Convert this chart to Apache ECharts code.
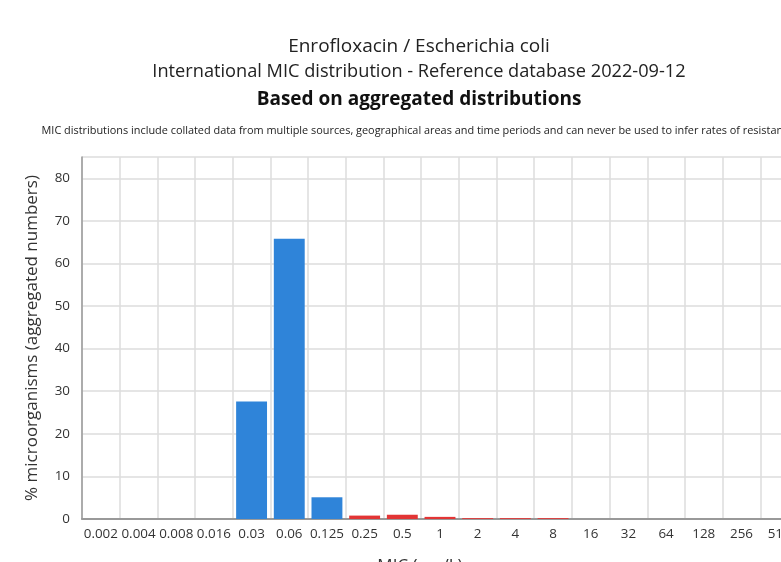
<!DOCTYPE html>
<html>
<head>
<meta charset="utf-8">
<script src="https://cdn.jsdelivr.net/npm/echarts@6/dist/echarts.min.js"></script>
<style>
  html, body { margin: 0; padding: 0; background: #fff; overflow: hidden; }
  #chart { width: 781px; height: 562px; }
</style>
</head>
<body>
<div id="chart"></div>
<script>
// MIC concentrations (mg/L) on the x axis
const micLabels = ['0.002', '0.004', '0.008', '0.016', '0.03', '0.06', '0.125', '0.25', '0.5',
  '1', '2', '4', '8', '16', '32', '64', '128', '256', '512'];
// Percentage of isolates at each MIC
const percentValues = [0, 0, 0, 0, 27.6, 65.8, 5.1, 0.8, 1.0, 0.5, 0.2, 0.2, 0.2, 0, 0, 0, 0, 0, 0];
// Last MIC counted as wild type (bars up to here are blue, above are red)
const ecoffLabel = '0.125';
const yTicks = [0, 10, 20, 30, 40, 50, 60, 70, 80];

const ecoffIndex = micLabels.indexOf(ecoffLabel);
const font = '"Open Sans", "Noto Sans", sans-serif';

const chart = echarts.init(document.getElementById('chart'), null, { renderer: 'canvas' });

chart.setOption({
  animation: false,
  backgroundColor: '#ffffff',
  textStyle: { fontFamily: font },
  title: [
    {
      text: 'Enrofloxacin / Escherichia coli',
      left: 414, top: 32, textAlign: 'center',
      textStyle: { fontFamily: font, fontSize: 19, fontWeight: 'normal', color: '#222' }
    },
    {
      text: 'International MIC distribution - Reference database 2022-09-12',
      left: 414, top: 58, textAlign: 'center',
      textStyle: { fontFamily: font, fontSize: 18.2, fontWeight: 'normal', color: '#222' }
    },
    {
      text: 'Based on aggregated distributions',
      left: 414, top: 85, textAlign: 'center',
      textStyle: { fontFamily: font, fontSize: 19, fontWeight: 'bold', color: '#111' }
    },
    {
      text: 'MIC distributions include collated data from multiple sources, geographical areas and time periods and can never be used to infer rates of resistance',
      left: 413, top: 120, textAlign: 'center',
      textStyle: { fontFamily: font, fontSize: 10.9, fontWeight: 'normal', color: '#222' }
    },
    {
      text: 'MIC (mg/L)',
      left: 415, top: 553, textAlign: 'center',
      textStyle: { fontFamily: font, fontSize: 17, fontWeight: 'normal', color: '#333' }
    }
  ],
  // plot area runs past the right edge of the canvas
  grid: { left: 82, width: 716, top: 157, bottom: 43, containLabel: false, outerBoundsMode: 'none' },
  xAxis: {
    type: 'category',
    data: micLabels,
    axisLine: { show: true, lineStyle: { color: '#999', width: 2 } },
    axisTick: { show: false },
    axisLabel: { fontFamily: font, fontSize: 13.4, color: '#333', margin: 9, interval: 0 },
    splitLine: { show: true, interval: 0, lineStyle: { color: '#dcdcdc', width: 1.5 } }
  },
  yAxis: {
    type: 'value',
    min: 0,
    max: 85,
    interval: 10,
    name: '% microorganisms (aggregated numbers)',
    nameLocation: 'middle',
    nameGap: 41,
    nameTextStyle: { fontFamily: font, fontSize: 17, color: '#333' },
    axisLine: { show: true, lineStyle: { color: '#999', width: 1.5 } },
    axisTick: { show: false },
    axisLabel: {
      fontFamily: font, fontSize: 13.4, color: '#333', margin: 12,
      formatter: v => (yTicks.indexOf(v) >= 0 ? String(v) : '')
    },
    splitLine: { show: true, lineStyle: { color: '#dcdcdc', width: 1.5 } }
  },
  series: [{
    type: 'bar',
    barCategoryGap: '18%',
    data: percentValues.map((v, i) => ({
      value: v,
      itemStyle: { color: i <= ecoffIndex ? '#2f84d9' : '#e23535' }
    }))
  }]
});
</script>
</body>
</html>
